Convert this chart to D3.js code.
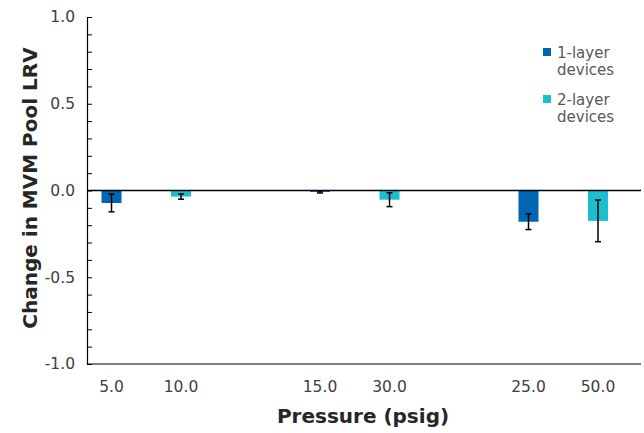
<!DOCTYPE html>
<html><head><meta charset="utf-8">
<script src="https://cdn.jsdelivr.net/npm/d3@7/dist/d3.min.js"></script>
<style>
body{margin:0;background:#fff;}
svg{display:block;font-family:"DejaVu Sans",Verdana,sans-serif;}
</style></head>
<body><svg id="c" width="644" height="433"></svg>
<script>
const categories = ["5.0","10.0","15.0","30.0","25.0","50.0"];
const seriesNames = ["1-layer devices","2-layer devices"];
const seriesOf = [0,1,0,1,0,1];
const slotIndex = [0,1,3,4,6,7];
const values = [-0.072,-0.035,-0.008,-0.053,-0.180,-0.175];
const errors = [0.051,0.015,0.006,0.040,0.045,0.120];
const yTicks = [1.0,0.5,0.0,-0.5,-1.0];
const colors = ["#0066B3","#1BBFCF"];

const svg = d3.select("#c");
const L=87, R=641, T=17, B=364;
const y = d3.scaleLinear().domain([-1,1]).range([B,T]);
const x = d3.scaleLinear().domain([0,7]).range([111.5,598]);
const bw = 20;

// axes
const yAxis = d3.axisRight(y).tickValues(d3.range(-10,11).map(d=>d/10)).tickSize(5).tickFormat("");
const ga = svg.append("g").attr("transform",`translate(${L},0)`).call(yAxis);
ga.select(".domain").attr("stroke","#000").attr("stroke-width",1.2);
ga.selectAll(".tick line").attr("stroke","#000").attr("stroke-width",1);

svg.append("g").selectAll("text").data(yTicks).join("text")
  .attr("x",L-12).attr("y",d=>y(d)).attr("dy","0.35em").attr("text-anchor","end")
  .attr("font-size",15.5).attr("fill","#404040").text(d=>d3.format(".1f")(d).replace("−","-"));

svg.append("line").attr("x1",L).attr("x2",R).attr("y1",B).attr("y2",B).attr("stroke","#000").attr("stroke-width",1.2);

// bars
const data = categories.map((c,i)=>({c,s:seriesOf[i],slot:slotIndex[i],v:values[i],e:errors[i]}));
svg.append("g").selectAll("rect").data(data).join("rect")
  .attr("x",d=>x(d.slot)-bw/2).attr("width",bw)
  .attr("y",d=>y(Math.max(0,d.v))).attr("height",d=>Math.abs(y(d.v)-y(0)))
  .attr("fill",d=>colors[d.s]);

// zero line
svg.append("line").attr("x1",L).attr("x2",R).attr("y1",y(0)).attr("y2",y(0)).attr("stroke","#000").attr("stroke-width",1.5);

// error bars
const eb = svg.append("g").attr("stroke","#000").attr("stroke-width",1.5);
data.forEach(d=>{
  const cx=x(d.slot);
  eb.append("line").attr("x1",cx).attr("x2",cx).attr("y1",y(d.v+d.e)).attr("y2",y(d.v-d.e));
  eb.append("line").attr("x1",cx-3).attr("x2",cx+3).attr("y1",y(d.v+d.e)).attr("y2",y(d.v+d.e));
  eb.append("line").attr("x1",cx-3).attr("x2",cx+3).attr("y1",y(d.v-d.e)).attr("y2",y(d.v-d.e));
});

// x labels
svg.append("g").selectAll("text").data(data).join("text")
  .attr("x",d=>x(d.slot)).attr("y",392).attr("text-anchor","middle")
  .attr("font-size",15.5).attr("fill","#404040").text(d=>d.c);

// titles
svg.append("text").attr("x",363).attr("y",423).attr("text-anchor","middle")
  .attr("font-size",20).attr("font-weight","bold").attr("fill","#262626").text("Pressure (psig)");
svg.append("text").attr("transform","translate(37,188) rotate(-90)").attr("text-anchor","middle")
  .attr("font-size",20).attr("font-weight","bold").attr("fill","#262626").text("Change in MVM Pool LRV");

// legend
const lg = svg.append("g");
seriesNames.forEach((n,i)=>{
  const oy = 48 + i*47;
  lg.append("rect").attr("x",543).attr("y",oy).attr("width",8).attr("height",8).attr("fill",colors[i]);
  const parts = n.split(" ");
  lg.append("text").attr("x",557).attr("y",oy+10).attr("font-size",15).attr("fill","#595959").text(parts[0]);
  lg.append("text").attr("x",557).attr("y",oy+27).attr("font-size",15).attr("fill","#595959").text(parts[1]);
});
</script></body></html>
